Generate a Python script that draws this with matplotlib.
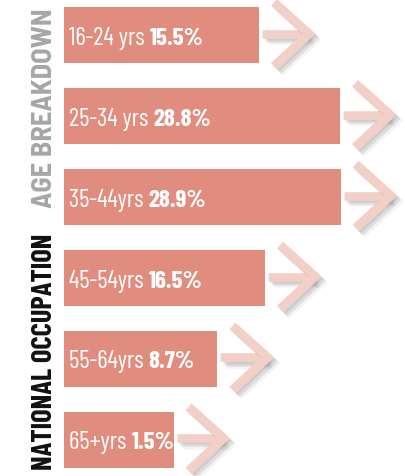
import numpy as np
import matplotlib
matplotlib.use("Agg")
import matplotlib.pyplot as plt
import matplotlib.patheffects as pe

# data
categories = ['16-24 yrs', '25-34 yrs', '35-44yrs', '45-54yrs', '55-64yrs', '65+yrs']
shares = [15.5, 28.8, 28.9, 16.5, 8.7, 1.5]
title_dark = 'NATIONAL OCCUPATION'
title_light = 'AGE BREAKDOWN'

BAR = '#E08D7F'
ARROW = '#F2D0C8'
W, H = 406, 477

FONT = ['Barlow Condensed', 'DejaVu Sans']
FONT_WIDE = ['Barlow Semi Condensed', 'DejaVu Sans']

fig = plt.figure(figsize=(W / 100, H / 100), dpi=100)
ax = fig.add_axes([0, 0, 1, 1])
ax.axis('off')

# bars start a bit left of zero so that short bars still hold their label
base = 16.46
px_x = 6.1      # pixels per percent point
px_y = 80.9     # pixels per row
x0 = -base - 64 / px_x
ax.set_xlim(x0, x0 + W / px_x)
ax.set_ylim(-0.449 + H / px_y, -0.449)

idx = np.arange(len(shares))
vals = np.array(shares)
ax.barh(idx, vals + base, left=-base, height=0.69, color=BAR, zorder=3)

shadow = [pe.SimpleLineShadow(offset=(1.5, -1.5), shadow_color='#444444', alpha=0.10),
          pe.SimpleLineShadow(offset=(3, -3), shadow_color='#444444', alpha=0.12),
          pe.SimpleLineShadow(offset=(4.5, -4.5), shadow_color='#444444', alpha=0.06),
          pe.Normal()]

for i, v in zip(idx, vals):
    # label: regular category + bold share
    t = ax.text(-base + 5 / px_x, i + 8.5 / px_y, categories[i] + ' ', color='white',
                fontsize=18, family=FONT, fontweight=400,
                va='baseline', ha='left', zorder=5)
    ax.annotate(f'{v}%', xy=(1, 0), xycoords=t, va='bottom', ha='left',
                color='white', fontsize=18, fontweight='bold', family=FONT, zorder=5)

    # arrow after the bar end
    ax.plot([v + 3 / px_x, v + 48 / px_x], [i - 1.5 / px_y, i - 1.5 / px_y],
            color=ARROW, lw=6.2, solid_capstyle='butt', zorder=4, path_effects=shadow)
    ax.plot([v + 15 / px_x, v + 50 / px_x, v + 15 / px_x],
            [i - 33 / px_y, i - 1.5 / px_y, i + 31 / px_y],
            color=ARROW, lw=6.4, solid_capstyle='butt', solid_joinstyle='miter',
            zorder=4, path_effects=shadow)

# vertical title
fig.text(52 / W, 7 / H, title_dark, rotation=90, rotation_mode='anchor',
         ha='left', va='baseline', fontsize=20.5, fontweight='bold',
         family=FONT, color='#111111')
fig.text(52 / W, 469 / H, title_light, rotation=90, rotation_mode='anchor',
         ha='right', va='baseline', fontsize=20.5, fontweight='bold',
         family=FONT_WIDE, color='#A6A6A6')

fig.savefig('out.png', dpi=100)
